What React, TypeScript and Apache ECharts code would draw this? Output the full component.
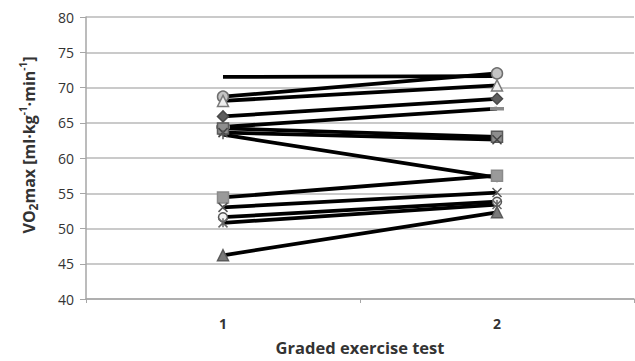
import React, { useEffect, useRef } from "react";
import * as echarts from "echarts";

const categories = ["1", "2"];
const yTicks = [40, 45, 50, 55, 60, 65, 70, 75, 80];

const subjectA = [71.5, 71.6];
const subjectB = [68.7, 72.0];
const subjectC = [68.1, 70.3];
const subjectD = [65.9, 68.4];
const subjectE = [64.4, 67.0];
const subjectF = [64.2, 63.0];
const subjectG = [63.6, 62.6];
const subjectH = [63.3, 57.2];
const subjectI = [54.4, 57.5];
const subjectJ = [53.0, 55.1];
const subjectK = [51.6, 53.8];
const subjectL = [50.8, 53.4];
const subjectM = [46.2, 52.3];

const X_PATH = "path://M0,0L10,10M10,0L0,10";
const PLUS_PATH = "path://M5,0L5,10M0,5L10,5";
const STAR_PATH = "path://M0,0L10,10M10,0L0,10M5,0L5,10";

const FONT = "Open Sans, Lato, sans-serif";

function mk(data: number[], symbol: string, fill: string, border: string, size: any = 10) {
  return {
    type: "line",
    data,
    symbol,
    symbolSize: size,
    showSymbol: symbol !== "none",
    lineStyle: { color: "#000", width: 3.8 },
    itemStyle: { color: fill, borderColor: border, borderWidth: 1.5 },
    emphasis: { disabled: true },
  };
}

export default function App() {
  const ref = useRef<HTMLDivElement>(null);
  useEffect(() => {
    if (!ref.current) return;
    const chart = echarts.init(ref.current, undefined, { renderer: "svg" });
    chart.setOption({
      animation: false,
      backgroundColor: "#fff",
      grid: { left: 86, right: 1, top: 17, bottom: 59 },
      xAxis: {
        type: "category",
        data: categories,
        boundaryGap: true,
        axisLine: { lineStyle: { color: "#a6a6a6", width: 1.5 } },
        axisTick: { show: true, length: 4, lineStyle: { color: "#a6a6a6" } },
        axisLabel: { margin: 17, fontSize: 14, color: "#333", fontFamily: FONT, fontWeight: "bold" },
        name: "Graded exercise test",
        nameLocation: "middle",
        nameGap: 40,
        nameTextStyle: { fontSize: 16.5, fontWeight: "bold", color: "#333", fontFamily: FONT },
      },
      yAxis: {
        type: "value",
        min: yTicks[0],
        max: yTicks[yTicks.length - 1],
        interval: 5,
        axisLine: { show: true, lineStyle: { color: "#a6a6a6", width: 1.5 } },
        axisTick: { show: true, length: 6, lineStyle: { color: "#a6a6a6" } },
        splitLine: { lineStyle: { color: "#b8b8b8", width: 1.5 } },
        axisLabel: { margin: 12, fontSize: 14, color: "#333", fontFamily: FONT },
        name: "{a|VO}{b|2}{a|max [ml·kg}{c|-1}{a|·min}{c|-1}{a|]}",
        nameLocation: "middle",
        nameGap: 47,
        nameTextStyle: {
          padding: [0, 0, 0, 26],
          rich: {
            a: { fontSize: 16, fontWeight: "bold", color: "#333", fontFamily: FONT, lineHeight: 21 },
            b: { fontSize: 12, fontWeight: "bold", color: "#333", fontFamily: FONT, verticalAlign: "bottom", lineHeight: 18 },
            c: { fontSize: 10, fontWeight: "bold", color: "#333", fontFamily: FONT, verticalAlign: "top", lineHeight: 12 },
          },
        },
      },
      series: [
        mk(subjectA, "none", "#000", "#000"),
        mk(subjectB, "circle", "#c4c4c4", "#6e6e6e", 11),
        mk(subjectC, "triangle", "#eeeeee", "#7a7a7a", 11),
        mk(subjectD, "diamond", "#5e5e5e", "#4a4a4a", 11),
        mk(subjectE, "rect", "#8a8a8a", "#8a8a8a", [8, 2]),
        mk(subjectF, "rect", "#8e8e8e", "#5a5a5a", 11),
        mk(subjectG, X_PATH, "#444", "#444", 9),
        mk(subjectH, PLUS_PATH, "#555", "#555", 9),
        mk(subjectI, "rect", "#9a9a9a", "#8a8a8a", 11),
        mk(subjectJ, X_PATH, "#555", "#555", 9),
        mk(subjectK, "circle", "#f2f2f2", "#555", 9),
        mk(subjectL, STAR_PATH, "#666", "#666", 9),
        mk(subjectM, "triangle", "#7a7a7a", "#5a5a5a", 11),
      ],
    });
    return () => chart.dispose();
  }, []);
  return <div ref={ref} style={{ width: 635, height: 361, position: "absolute", left: 0, top: 0 }} />;
}
